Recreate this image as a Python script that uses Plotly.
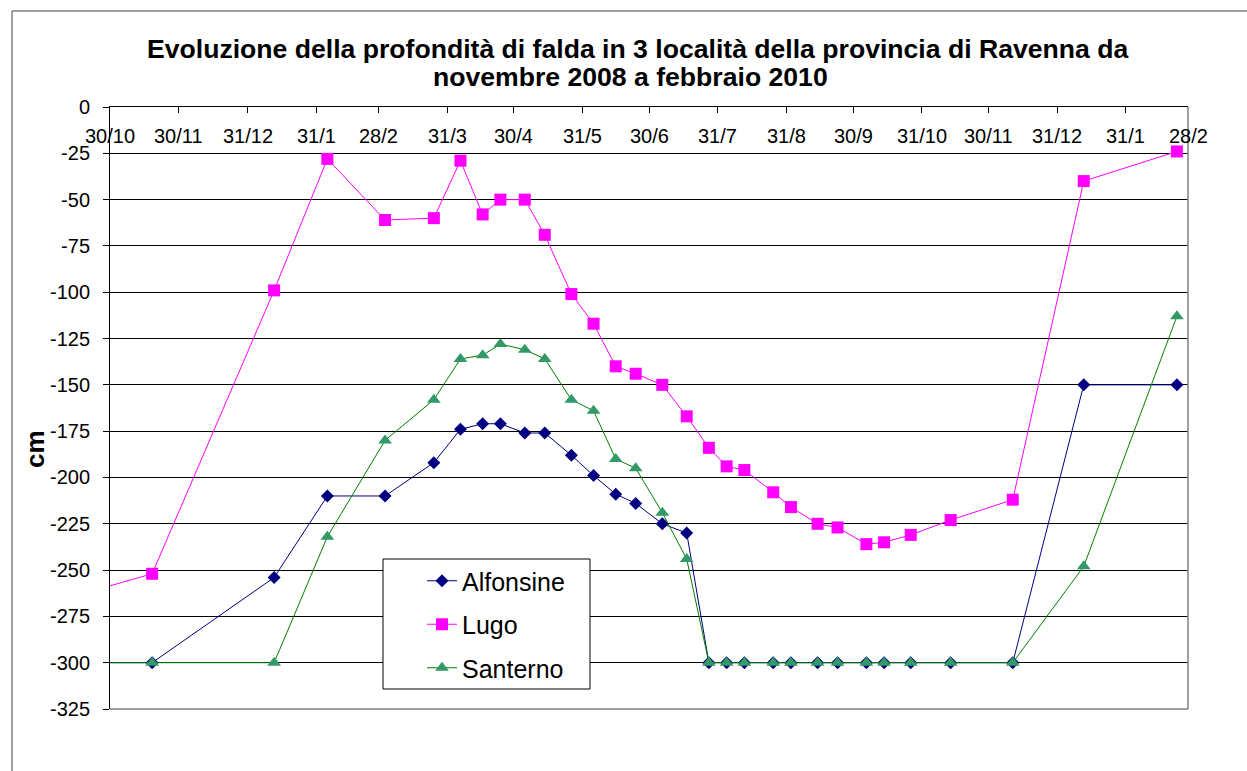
import plotly.graph_objects as go

# ---- data ----
dates = [
    "2008-10-14", "2008-11-18", "2009-01-12", "2009-02-05", "2009-03-03",
    "2009-03-25", "2009-04-06", "2009-04-16", "2009-04-24", "2009-05-05",
    "2009-05-14", "2009-05-26", "2009-06-05", "2009-06-15", "2009-06-24",
    "2009-07-06", "2009-07-17", "2009-07-27", "2009-08-04", "2009-08-12",
    "2009-08-25", "2009-09-02", "2009-09-14", "2009-09-23", "2009-10-06",
    "2009-10-14", "2009-10-26", "2009-11-13", "2009-12-11", "2010-01-12",
    "2010-02-23",
]
alfonsine = [-300, -300, -254, -210, -210, -192, -174, -171, -171, -176,
             -176, -188, -199, -209, -214, -225, -230, -300, -300, -300,
             -300, -300, -300, -300, -300, -300, -300, -300, -300, -150,
             -150]
lugo = [-264, -252, -99, -28, -61, -60, -29, -58, -50, -50,
        -69, -101, -117, -140, -144, -150, -167, -184, -194, -196,
        -208, -216, -225, -227, -236, -235, -231, -223, -212, -40,
        -24]
santerno = [-300, -300, -300, -232, -180, -158, -136, -134, -128, -131,
            -136, -158, -164, -190, -195, -219, -244, -300, -300, -300,
            -300, -300, -300, -300, -300, -300, -300, -300, -300, -248,
            -113]

x_tick_dates = ["2008-10-30", "2008-11-30", "2008-12-31", "2009-01-31",
                "2009-02-28", "2009-03-31", "2009-04-30", "2009-05-31",
                "2009-06-30", "2009-07-31", "2009-08-31", "2009-09-30",
                "2009-10-31", "2009-11-30", "2009-12-31", "2010-01-31",
                "2010-02-28"]
x_tick_text = ["30/10", "30/11", "31/12", "31/1", "28/2", "31/3", "30/4",
               "31/5", "30/6", "31/7", "31/8", "30/9", "31/10", "30/11",
               "31/12", "31/1", "28/2"]
y_ticks = [0, -25, -50, -75, -100, -125, -150, -175, -200, -225, -250,
           -275, -300, -325]
y_tick_text = [str(v) for v in y_ticks]

title1 = "Evoluzione della profondità di falda in 3 località della provincia di Ravenna da"
title2 = "novembre 2008 a febbraio 2010"

FONT = "Liberation Sans, Arial, sans-serif"

W, H = 1247, 771
L, T = 110, 107
R = W - 1188
B = H - 709
PW = W - L - R
PH = H - T - B


def px_x(p):
    """pixel x -> paper x"""
    return (p - L) / PW


def px_y(p):
    """pixel y -> paper y"""
    return (H - B - p) / PH


fig = go.Figure()
fig.add_trace(go.Scatter(
    x=dates, y=alfonsine, name="Alfonsine", mode="lines+markers",
    legendgroup="a",
    line=dict(color="#000080", width=1),
    marker=dict(symbol="diamond", size=10, color="#000080"),
))
fig.add_trace(go.Scatter(
    x=dates, y=lugo, name="Lugo", mode="lines+markers",
    legendgroup="b",
    line=dict(color="#FF00FF", width=1),
    marker=dict(symbol="square", size=12, color="#FF00FF"),
))
fig.add_trace(go.Scatter(
    x=dates, y=santerno, name="Santerno", mode="lines+markers",
    legendgroup="c",
    line=dict(color="#008000", width=1),
    marker=dict(symbol="triangle-up", size=12, color="#339966"),
))

xrange = ["2008-10-30", "2010-02-28"]

shapes = [
    # legend box
    dict(type="rect", xref="paper", yref="paper",
         x0=px_x(383), x1=px_x(590), y0=px_y(689), y1=px_y(559),
         line=dict(color="#000000", width=1), fillcolor="white", layer="above"),
    # plot area right / bottom border
    dict(type="line", xref="paper", yref="paper", x0=1, x1=1, y0=0, y1=1,
         line=dict(color="#808080", width=1.5), layer="above"),
    dict(type="line", xref="paper", yref="paper", x0=0, x1=1, y0=0, y1=0,
         line=dict(color="#808080", width=1.5), layer="above"),
    # chart area border (left and top edges visible in the window)
    dict(type="line", xref="paper", yref="paper",
         x0=px_x(12), x1=px_x(12), y0=px_y(790), y1=px_y(11),
         line=dict(color="#808080", width=1.5), layer="below"),
    dict(type="line", xref="paper", yref="paper",
         x0=px_x(12), x1=px_x(1270), y0=px_y(11), y1=px_y(11),
         line=dict(color="#808080", width=1.5), layer="below"),
]

annotations = [
    dict(text="<b>" + title1 + "</b>", xref="paper", yref="paper",
         x=px_x(637), y=px_y(49), xanchor="center", yanchor="middle",
         showarrow=False, font=dict(family=FONT, size=26.6, color="black")),
    dict(text="<b>" + title2 + "</b>", xref="paper", yref="paper",
         x=px_x(630), y=px_y(77), xanchor="center", yanchor="middle",
         showarrow=False, font=dict(family=FONT, size=26.6, color="black")),
    dict(text="<b>cm</b>", xref="paper", yref="paper", x=px_x(35), y=px_y(449),
         xanchor="center", yanchor="middle", showarrow=False, textangle=-90,
         font=dict(family=FONT, size=26, color="black")),
]
# x-axis tick labels (drawn just below the top axis line, as in the original)
for d, t in zip(x_tick_dates, x_tick_text):
    annotations.append(dict(
        text=t, x=d, xref="x", y=px_y(136), yref="paper",
        xanchor="center", yanchor="middle", showarrow=False,
        font=dict(family=FONT, size=20, color="black")))

fig.update_layout(
    width=W, height=H,
    margin=dict(l=L, r=R, t=T, b=B, pad=0),
    paper_bgcolor="white", plot_bgcolor="white",
    font=dict(family=FONT, size=20, color="black"),
    showlegend=True,
    legend=dict(x=px_x(422), y=px_y(558), xanchor="left", yanchor="top",
                bgcolor="rgba(0,0,0,0)", borderwidth=0,
                font=dict(family=FONT, size=25, color="black"),
                tracegroupgap=8),
    xaxis=dict(type="date", range=xrange, side="top",
               tickvals=x_tick_dates, showticklabels=False,
               ticks="inside", ticklen=6, tickcolor="black", tickwidth=1,
               showline=True, linecolor="black", linewidth=1,
               showgrid=False, zeroline=False, fixedrange=True),
    yaxis=dict(range=[-325, 0], tickvals=y_ticks, ticktext=y_tick_text,
               ticks="outside", ticklen=6, tickcolor="black", tickwidth=1,
               showline=True, linecolor="black", linewidth=1,
               showgrid=True, gridcolor="black", gridwidth=1,
               zeroline=False, ticklabelstandoff=9,
               tickfont=dict(family=FONT, size=20, color="black")),
    shapes=shapes,
    annotations=annotations,
)

fig.write_html(
    "out.html",
    config={"displayModeBar": False},
    post_script="document.body.style.margin='0';"
                "document.body.style.overflow='hidden';",
)
